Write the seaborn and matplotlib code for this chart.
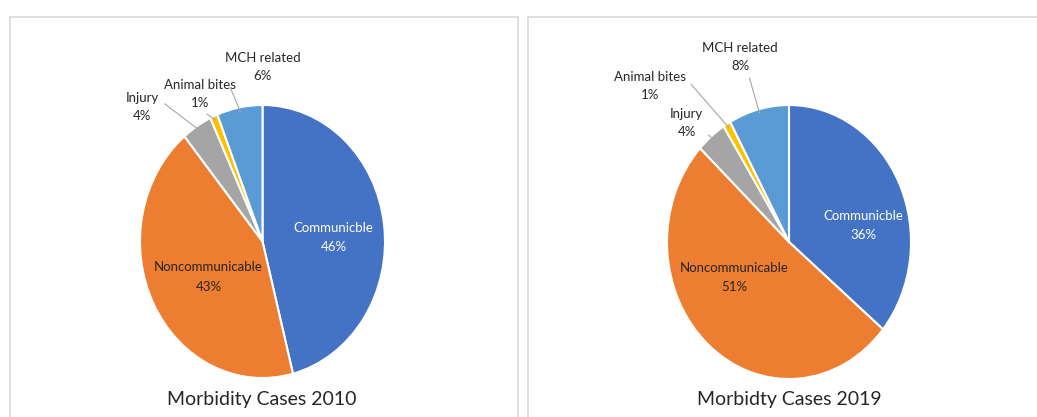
import matplotlib
matplotlib.use("Agg")
import matplotlib.pyplot as plt
import seaborn as sns
from matplotlib.patches import Rectangle
import numpy as np

# data
categories = ["Communicble", "Noncommunicable", "Injury", "Animal bites", "MCH related"]
share_2010 = [46, 43, 4, 1, 6]
share_2019 = [36, 51, 4, 1, 8]
titles = ["Morbidity Cases 2010", "Morbidty Cases 2019"]

sns.set_theme(style="white")
plt.rcParams["font.family"] = ["Lato", "DejaVu Sans"]

colors = ["#4472C4", "#ED7D31", "#A5A5A5", "#FFC000", "#5B9BD5"]
text_colors = ["white", "#262626", "#262626", "#262626", "#262626"]

# label block positions (data coords of each pie, radius 1)
label_pos = [
    [(0.58, 0.03), (-0.44, -0.26), (-0.98, 0.985), (-0.51, 1.08), (0.0, 1.28)],
    [(0.61, 0.12), (-0.45, -0.26), (-0.84, 0.87), (-1.14, 1.14), (-0.40, 1.35)],
]
# where the leader line leaves the label box
leader_rel = [
    [None, None, (1.0, 0.75), (0.5, 0.0), (0.0, 0.25)],
    [None, None, (1.0, 0.25), (1.0, 0.75), (0.6, 0.0)],
]
W, H = 1037, 417
pie_boxes = [(140, 105, 245, 273), (667, 105, 244, 274)]  # left, top, w, h in px
panel_boxes = [(10, 17, 508, 410), (528, 17, 515, 410)]
title_xy = [(262, 400), (789, 400)]

fig = plt.figure(figsize=(W / 100, H / 100), dpi=100)

for (l, t, w, h) in panel_boxes:
    fig.patches.append(Rectangle((l / W, 1 - (t + h) / H), w / W, h / H,
                                 transform=fig.transFigure, fill=False,
                                 edgecolor="#d9d9d9", lw=1.2))

for i, values in enumerate([share_2010, share_2019]):
    l, t, w, h = pie_boxes[i]
    ax = fig.add_axes([l / W, 1 - (t + h) / H, w / W, h / H])
    wedges, _ = ax.pie(values, colors=colors, startangle=90, counterclock=False,
                       wedgeprops=dict(edgecolor="white", linewidth=1.5))
    ax.set_aspect("auto")
    ax.set_xlim(-1, 1)
    ax.set_ylim(-1, 1)
    ax.axis("off")

    for j, (wedge, name, v) in enumerate(zip(wedges, categories, values)):
        tx, ty = label_pos[i][j]
        label = f"{name}\n{v}%"
        if j < 2:
            ax.text(tx, ty, label, ha="center", va="center", fontsize=9.5,
                    color=text_colors[j], linespacing=1.75)
        else:
            ang = np.deg2rad((wedge.theta1 + wedge.theta2) / 2)
            ex, ey = 0.97 * np.cos(ang), 0.97 * np.sin(ang)
            ax.annotate(label, xy=(ex, ey), xytext=(tx, ty), ha="center", va="center",
                        fontsize=9.5, color=text_colors[j], linespacing=1.6,
                        annotation_clip=False,
                        arrowprops=dict(arrowstyle="-", color="#a6a6a6", lw=0.8,
                                        shrinkA=2, shrinkB=0,
                                        relpos=leader_rel[i][j]))

    fig.text(title_xy[i][0] / W, 1 - title_xy[i][1] / H, titles[i], ha="center",
             va="center", fontsize=14, color="#262626")

fig.savefig("out.png", dpi=100)
